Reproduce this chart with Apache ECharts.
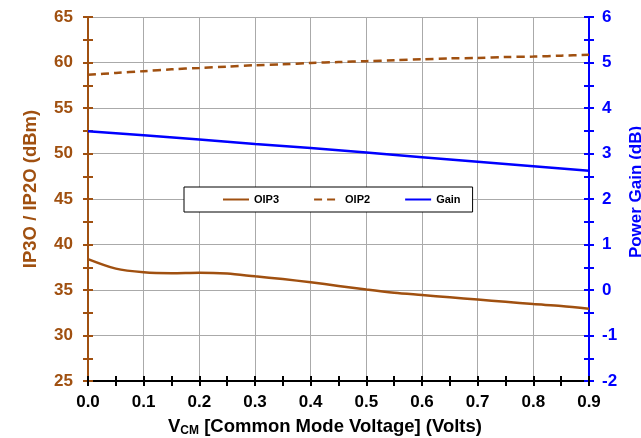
<!DOCTYPE html>
<html>
<head>
<meta charset="utf-8">
<title>IP3O / IP2O and Power Gain vs VCM</title>
<script src="https://cdn.jsdelivr.net/npm/echarts@6/dist/echarts.min.js"></script>
<style>
  html, body { margin: 0; padding: 0; background: #ffffff; }
  #chart { width: 641px; height: 438px; }
</style>
</head>
<body>
<div id="chart"></div>
<script>
// Common-mode voltage sweep points (Volts)
const vcm = [0, 0.05, 0.1, 0.15, 0.2, 0.25, 0.3, 0.35, 0.4, 0.45, 0.5,
             0.55, 0.6, 0.65, 0.7, 0.75, 0.8, 0.85, 0.9];
// Third-order output intercept (dBm)
const oip3 = [38.4, 37.35, 36.95, 36.85, 36.9, 36.8, 36.5, 36.2, 35.85, 35.45, 35.05,
              34.7, 34.45, 34.2, 33.95, 33.7, 33.45, 33.25, 32.95];
// Second-order output intercept (dBm)
const oip2 = [58.65, 58.85, 59.05, 59.25, 59.4, 59.55, 59.7, 59.8, 59.95, 60.05, 60.15,
              60.25, 60.35, 60.45, 60.5, 60.6, 60.65, 60.75, 60.85];
// Power gain sweep (dB)
const vcmGain = [0, 0.1, 0.2, 0.3, 0.4, 0.5, 0.6, 0.7, 0.8, 0.9];
const gain = [3.49, 3.40, 3.31, 3.21, 3.12, 3.02, 2.92, 2.82, 2.72, 2.62];

const seriesNames = ['OIP3', 'OIP2', 'Gain'];

const BROWN = '#A05010';
const BLUE = '#0000FF';
const GRID = '#AAAAAA';
const FONT = 'Arial, "Liberation Sans", sans-serif';

const pairs = (xs, ys) => xs.map((x, i) => [x, ys[i]]);

const chart = echarts.init(document.getElementById('chart'), null, { renderer: 'canvas' });

// Secondary, label-less axes that draw the inner half of each tick so ticks cross the axis line
function innerY(position, min, max, interval, color) {
  return {
    type: 'value', position: position, min: min, max: max, interval: interval,
    axisLine: { show: false, onZero: false },
    axisLabel: { show: false },
    splitLine: { show: false },
    axisTick: { show: true, inside: true, length: 5, lineStyle: { color: color, width: 2 } },
    minorTick: { show: true, splitNumber: 2, length: 5, lineStyle: { color: color, width: 2 } }
  };
}

const option = {
  backgroundColor: '#ffffff',
  animation: false,
  grid: { left: 88, right: 52, top: 17, height: 364, containLabel: false, outerBoundsMode: 'none' },
  legend: {
    data: seriesNames,
    left: 184, top: 187,
    orient: 'horizontal',
    padding: [7, 12, 7, 38],
    itemWidth: 26, itemHeight: 12, itemGap: 34,
    backgroundColor: '#ffffff',
    borderColor: '#000000', borderWidth: 1, borderRadius: 0,
    itemStyle: { color: 'rgba(0,0,0,0)', borderWidth: 0, opacity: 0 },
    textStyle: { fontFamily: FONT, fontWeight: 'bold', fontSize: 11, color: '#000000' }
  },
  xAxis: [
    {
      type: 'value', position: 'bottom', min: 0, max: 0.9, interval: 0.1,
      name: '{v|V}{s|CM}{t| [Common Mode Voltage] (Volts)}',
      nameLocation: 'middle', nameGap: 35,
      nameTextStyle: {
        padding: [0, 27, 0, 0],
        rich: {
          v: { fontFamily: FONT, fontWeight: 'bold', fontSize: 18.5, color: '#000', lineHeight: 21 },
          s: { fontFamily: FONT, fontWeight: 'bold', fontSize: 12, color: '#000', verticalAlign: 'bottom', lineHeight: 12 },
          t: { fontFamily: FONT, fontWeight: 'bold', fontSize: 18.5, color: '#000', lineHeight: 21 }
        }
      },
      axisLine: { show: true, onZero: false, lineStyle: { color: '#000000', width: 2 } },
      axisTick: { show: true, length: 5, lineStyle: { color: '#000000', width: 2 } },
      minorTick: { show: true, splitNumber: 2, length: 5, lineStyle: { color: '#000000', width: 2 } },
      axisLabel: {
        margin: 13, color: '#000000', fontFamily: FONT, fontWeight: 'bold', fontSize: 17,
        formatter: v => v.toFixed(1)
      },
      splitLine: { show: true, lineStyle: { color: GRID, width: 1 } }
    },
    {
      type: 'value', position: 'bottom', min: 0, max: 0.9, interval: 0.1,
      axisLine: { show: false, onZero: false },
      axisLabel: { show: false },
      splitLine: { show: false },
      axisTick: { show: true, inside: true, length: 5, lineStyle: { color: '#000000', width: 2 } },
      minorTick: { show: true, splitNumber: 2, length: 5, lineStyle: { color: '#000000', width: 2 } }
    }
  ],
  yAxis: [
    {
      type: 'value', position: 'left', min: 25, max: 65, interval: 5,
      name: 'IP3O / IP2O (dBm)', nameLocation: 'middle', nameGap: 48, nameRotate: 90,
      nameTextStyle: { color: BROWN, fontFamily: FONT, fontWeight: 'bold', fontSize: 18.5, padding: [0, 0, 0, 20] },
      axisLine: { show: true, onZero: false, lineStyle: { color: BROWN, width: 2 } },
      axisTick: { show: true, length: 5, lineStyle: { color: BROWN, width: 2 } },
      minorTick: { show: true, splitNumber: 2, length: 5, lineStyle: { color: BROWN, width: 2 } },
      axisLabel: { margin: 15, color: BROWN, fontFamily: FONT, fontWeight: 'bold', fontSize: 17 },
      splitLine: { show: true, lineStyle: { color: GRID, width: 1 } }
    },
    {
      type: 'value', position: 'right', min: -2, max: 6, interval: 1,
      name: 'Power Gain (dB)', nameLocation: 'middle', nameGap: 34, nameRotate: 90,
      nameTextStyle: { color: BLUE, fontFamily: FONT, fontWeight: 'bold', fontSize: 17, padding: [0, 0, 0, 14] },
      axisLine: { show: true, onZero: false, lineStyle: { color: BLUE, width: 2 } },
      axisTick: { show: true, length: 5, lineStyle: { color: BLUE, width: 2 } },
      minorTick: { show: true, splitNumber: 2, length: 5, lineStyle: { color: BLUE, width: 2 } },
      axisLabel: { margin: 13, color: BLUE, fontFamily: FONT, fontWeight: 'bold', fontSize: 17 },
      splitLine: { show: false }
    },
    innerY('left', 25, 65, 5, BROWN),
    innerY('right', -2, 6, 1, BLUE)
  ],
  series: [
    {
      name: seriesNames[0], type: 'line', xAxisIndex: 0, yAxisIndex: 0,
      data: pairs(vcm, oip3), smooth: 0.3, symbol: 'none',
      lineStyle: { color: BROWN, width: 2.5 }, itemStyle: { color: BROWN }, z: 3
    },
    {
      name: seriesNames[1], type: 'line', xAxisIndex: 0, yAxisIndex: 0,
      data: pairs(vcm, oip2), smooth: 0.3, symbol: 'none',
      lineStyle: { color: BROWN, width: 2.5, type: [8, 5] }, itemStyle: { color: BROWN }, z: 3
    },
    {
      name: seriesNames[2], type: 'line', xAxisIndex: 0, yAxisIndex: 1,
      data: pairs(vcmGain, gain), smooth: false, symbol: 'none',
      lineStyle: { color: BLUE, width: 2.5 }, itemStyle: { color: BLUE }, z: 3
    }
  ]
};

chart.setOption(option);
</script>
</body>
</html>
